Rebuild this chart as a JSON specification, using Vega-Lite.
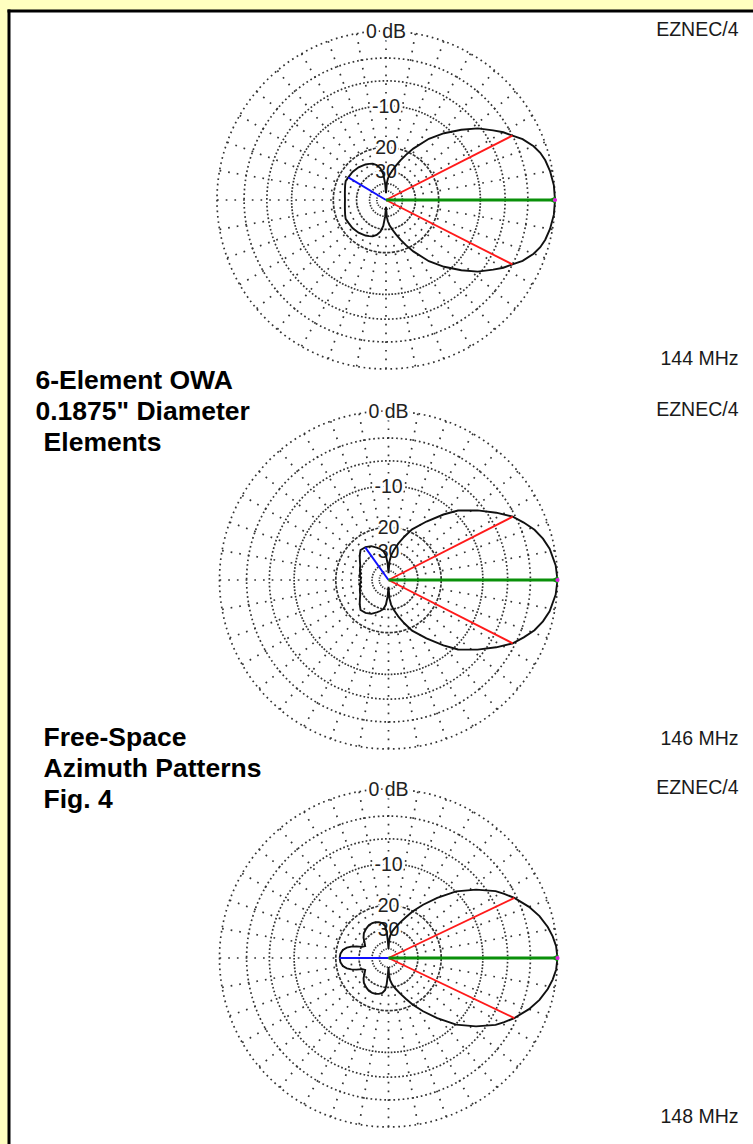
{
  "$schema": "https://vega.github.io/schema/vega-lite/v6.json",
  "width": 744.5,
  "height": 1133.5,
  "autosize": {"type": "none"},
  "padding": {"left": 8.5, "top": 10.5, "right": 0, "bottom": 0},
  "background": "#FFFFC0",
  "config": {"view": {"fill": "white", "stroke": null}},
  "datasets": {
    "rings": [
      {"freq": "144 MHz", "db": [0, -3, -6, -10, -20, -30, -40, -50]},
      {"freq": "146 MHz", "db": [0, -3, -6, -10, -20, -30, -40, -50]},
      {"freq": "148 MHz", "db": [0, -3, -6, -10, -20, -30, -40, -50]}
    ],
    "spokes": [
      {"freq": "144 MHz", "az": [0,10,20,30,40,50,60,70,80,90,100,110,120,130,140,150,160,170,180,190,200,210,220,230,240,250,260,270,280,290,300,310,320,330,340,350]},
      {"freq": "146 MHz", "az": [0,10,20,30,40,50,60,70,80,90,100,110,120,130,140,150,160,170,180,190,200,210,220,230,240,250,260,270,280,290,300,310,320,330,340,350]},
      {"freq": "148 MHz", "az": [0,10,20,30,40,50,60,70,80,90,100,110,120,130,140,150,160,170,180,190,200,210,220,230,240,250,260,270,280,290,300,310,320,330,340,350]}
    ],
    "ringLabels": [
      {"freq": "144 MHz", "db": [0, -10, -20, -30], "label": ["0 dB", "-10", "20", "30"]},
      {"freq": "146 MHz", "db": [0, -10, -20, -30], "label": ["0 dB", "-10", "20", "30"]},
      {"freq": "148 MHz", "db": [0, -10, -20, -30], "label": ["0 dB", "-10", "20", "30"]}
    ],
    "panels": [{"freq": "144 MHz"}, {"freq": "146 MHz"}, {"freq": "148 MHz"}],
    "rays": [
      {"freq": "144 MHz", "ray": "max", "az": 0, "db": 0},
      {"freq": "144 MHz", "ray": "half-power", "az": 27, "db": -3},
      {"freq": "144 MHz", "ray": "half-power", "az": -27, "db": -3},
      {"freq": "144 MHz", "ray": "back", "az": 149, "db": -23.1},
      {"freq": "146 MHz", "ray": "max", "az": 0, "db": 0},
      {"freq": "146 MHz", "ray": "half-power", "az": 27, "db": -3.3},
      {"freq": "146 MHz", "ray": "half-power", "az": -27, "db": -3.3},
      {"freq": "146 MHz", "ray": "back", "az": 125.5, "db": -24.7},
      {"freq": "148 MHz", "ray": "max", "az": 0, "db": 0},
      {"freq": "148 MHz", "ray": "half-power", "az": 25.5, "db": -3.3},
      {"freq": "148 MHz", "ray": "half-power", "az": -25.5, "db": -3.3},
      {"freq": "148 MHz", "ray": "back", "az": 180, "db": -21.3}
    ],
    "titles": [
      {"block": 0, "line": 0, "text": "6-Element OWA"},
      {"block": 0, "line": 1, "text": "0.1875\" Diameter"},
      {"block": 0, "line": 2, "text": "Elements"},
      {"block": 1, "line": 0, "text": "Free-Space"},
      {"block": 1, "line": 1, "text": "Azimuth Patterns"},
      {"block": 1, "line": 2, "text": "Fig. 4"}
    ],
    "pattern": [
      {"freq": "144 MHz", "az": 0, "db": 0},
      {"freq": "144 MHz", "az": 5, "db": -0.05},
      {"freq": "144 MHz", "az": 10, "db": -0.25},
      {"freq": "144 MHz", "az": 14, "db": -0.5},
      {"freq": "144 MHz", "az": 17, "db": -0.8},
      {"freq": "144 MHz", "az": 20, "db": -1.25},
      {"freq": "144 MHz", "az": 24, "db": -2.1},
      {"freq": "144 MHz", "az": 27, "db": -3},
      {"freq": "144 MHz", "az": 30, "db": -3.8},
      {"freq": "144 MHz", "az": 33, "db": -4.8},
      {"freq": "144 MHz", "az": 38, "db": -6.4},
      {"freq": "144 MHz", "az": 43, "db": -8.5},
      {"freq": "144 MHz", "az": 49, "db": -11.1},
      {"freq": "144 MHz", "az": 55, "db": -14},
      {"freq": "144 MHz", "az": 62, "db": -18.3},
      {"freq": "144 MHz", "az": 66, "db": -21},
      {"freq": "144 MHz", "az": 70, "db": -23.8},
      {"freq": "144 MHz", "az": 74, "db": -26.8},
      {"freq": "144 MHz", "az": 78, "db": -29.6},
      {"freq": "144 MHz", "az": 82, "db": -32.5},
      {"freq": "144 MHz", "az": 85, "db": -35.5},
      {"freq": "144 MHz", "az": 87, "db": -39},
      {"freq": "144 MHz", "az": 90, "db": -55},
      {"freq": "144 MHz", "az": 93, "db": -40},
      {"freq": "144 MHz", "az": 96, "db": -32},
      {"freq": "144 MHz", "az": 100, "db": -28.5},
      {"freq": "144 MHz", "az": 105, "db": -26.5},
      {"freq": "144 MHz", "az": 110, "db": -25.3},
      {"freq": "144 MHz", "az": 115, "db": -24.8},
      {"freq": "144 MHz", "az": 120, "db": -24.3},
      {"freq": "144 MHz", "az": 130, "db": -23.6},
      {"freq": "144 MHz", "az": 140, "db": -23.2},
      {"freq": "144 MHz", "az": 149, "db": -23.1},
      {"freq": "144 MHz", "az": 155, "db": -22.9},
      {"freq": "144 MHz", "az": 160, "db": -23.3},
      {"freq": "144 MHz", "az": 165, "db": -23.7},
      {"freq": "144 MHz", "az": 170, "db": -24},
      {"freq": "144 MHz", "az": 175, "db": -24.2},
      {"freq": "144 MHz", "az": 180, "db": -24.3},
      {"freq": "144 MHz", "az": -5, "db": -0.05},
      {"freq": "144 MHz", "az": -10, "db": -0.25},
      {"freq": "144 MHz", "az": -14, "db": -0.5},
      {"freq": "144 MHz", "az": -17, "db": -0.8},
      {"freq": "144 MHz", "az": -20, "db": -1.25},
      {"freq": "144 MHz", "az": -24, "db": -2.1},
      {"freq": "144 MHz", "az": -27, "db": -3},
      {"freq": "144 MHz", "az": -30, "db": -3.8},
      {"freq": "144 MHz", "az": -33, "db": -4.8},
      {"freq": "144 MHz", "az": -38, "db": -6.4},
      {"freq": "144 MHz", "az": -43, "db": -8.5},
      {"freq": "144 MHz", "az": -49, "db": -11.1},
      {"freq": "144 MHz", "az": -55, "db": -14},
      {"freq": "144 MHz", "az": -62, "db": -18.3},
      {"freq": "144 MHz", "az": -66, "db": -21},
      {"freq": "144 MHz", "az": -70, "db": -23.8},
      {"freq": "144 MHz", "az": -74, "db": -26.8},
      {"freq": "144 MHz", "az": -78, "db": -29.6},
      {"freq": "144 MHz", "az": -82, "db": -32.5},
      {"freq": "144 MHz", "az": -85, "db": -35.5},
      {"freq": "144 MHz", "az": -87, "db": -39},
      {"freq": "144 MHz", "az": -90, "db": -55},
      {"freq": "144 MHz", "az": -93, "db": -40},
      {"freq": "144 MHz", "az": -96, "db": -32},
      {"freq": "144 MHz", "az": -100, "db": -28.5},
      {"freq": "144 MHz", "az": -105, "db": -26.5},
      {"freq": "144 MHz", "az": -110, "db": -25.3},
      {"freq": "144 MHz", "az": -115, "db": -24.8},
      {"freq": "144 MHz", "az": -120, "db": -24.3},
      {"freq": "144 MHz", "az": -130, "db": -23.6},
      {"freq": "144 MHz", "az": -140, "db": -23.2},
      {"freq": "144 MHz", "az": -149, "db": -23.1},
      {"freq": "144 MHz", "az": -155, "db": -22.9},
      {"freq": "144 MHz", "az": -160, "db": -23.3},
      {"freq": "144 MHz", "az": -165, "db": -23.7},
      {"freq": "144 MHz", "az": -170, "db": -24},
      {"freq": "144 MHz", "az": -175, "db": -24.2},
      {"freq": "144 MHz", "az": -180, "db": -24.3},
      {"freq": "146 MHz", "az": 0, "db": 0},
      {"freq": "146 MHz", "az": 5, "db": -0.12},
      {"freq": "146 MHz", "az": 11, "db": -0.5},
      {"freq": "146 MHz", "az": 15, "db": -0.95},
      {"freq": "146 MHz", "az": 19, "db": -1.55},
      {"freq": "146 MHz", "az": 23, "db": -2.4},
      {"freq": "146 MHz", "az": 27, "db": -3.3},
      {"freq": "146 MHz", "az": 32, "db": -4.9},
      {"freq": "146 MHz", "az": 38, "db": -6.9},
      {"freq": "146 MHz", "az": 45, "db": -9.3},
      {"freq": "146 MHz", "az": 50, "db": -11.7},
      {"freq": "146 MHz", "az": 57, "db": -15.2},
      {"freq": "146 MHz", "az": 65, "db": -19},
      {"freq": "146 MHz", "az": 70, "db": -22.3},
      {"freq": "146 MHz", "az": 75, "db": -25.8},
      {"freq": "146 MHz", "az": 80, "db": -29.5},
      {"freq": "146 MHz", "az": 84, "db": -33},
      {"freq": "146 MHz", "az": 87, "db": -38},
      {"freq": "146 MHz", "az": 90, "db": -55},
      {"freq": "146 MHz", "az": 93, "db": -40},
      {"freq": "146 MHz", "az": 96, "db": -33},
      {"freq": "146 MHz", "az": 100, "db": -30},
      {"freq": "146 MHz", "az": 105, "db": -28.5},
      {"freq": "146 MHz", "az": 110, "db": -27.3},
      {"freq": "146 MHz", "az": 117, "db": -25.6},
      {"freq": "146 MHz", "az": 125, "db": -24.7},
      {"freq": "146 MHz", "az": 133, "db": -24.3},
      {"freq": "146 MHz", "az": 140, "db": -25.8},
      {"freq": "146 MHz", "az": 147, "db": -27.5},
      {"freq": "146 MHz", "az": 153, "db": -28.7},
      {"freq": "146 MHz", "az": 158, "db": -29.2},
      {"freq": "146 MHz", "az": 163, "db": -29.7},
      {"freq": "146 MHz", "az": 167, "db": -30.8},
      {"freq": "146 MHz", "az": 171, "db": -30},
      {"freq": "146 MHz", "az": 175, "db": -31.2},
      {"freq": "146 MHz", "az": 180, "db": -30.8},
      {"freq": "146 MHz", "az": -5, "db": -0.12},
      {"freq": "146 MHz", "az": -11, "db": -0.5},
      {"freq": "146 MHz", "az": -15, "db": -0.95},
      {"freq": "146 MHz", "az": -19, "db": -1.55},
      {"freq": "146 MHz", "az": -23, "db": -2.4},
      {"freq": "146 MHz", "az": -27, "db": -3.3},
      {"freq": "146 MHz", "az": -32, "db": -4.9},
      {"freq": "146 MHz", "az": -38, "db": -6.9},
      {"freq": "146 MHz", "az": -45, "db": -9.3},
      {"freq": "146 MHz", "az": -50, "db": -11.7},
      {"freq": "146 MHz", "az": -57, "db": -15.2},
      {"freq": "146 MHz", "az": -65, "db": -19},
      {"freq": "146 MHz", "az": -70, "db": -22.3},
      {"freq": "146 MHz", "az": -75, "db": -25.8},
      {"freq": "146 MHz", "az": -80, "db": -29.5},
      {"freq": "146 MHz", "az": -84, "db": -33},
      {"freq": "146 MHz", "az": -87, "db": -38},
      {"freq": "146 MHz", "az": -90, "db": -55},
      {"freq": "146 MHz", "az": -93, "db": -40},
      {"freq": "146 MHz", "az": -96, "db": -33},
      {"freq": "146 MHz", "az": -100, "db": -30},
      {"freq": "146 MHz", "az": -105, "db": -28.5},
      {"freq": "146 MHz", "az": -110, "db": -27.3},
      {"freq": "146 MHz", "az": -117, "db": -25.6},
      {"freq": "146 MHz", "az": -125, "db": -24.7},
      {"freq": "146 MHz", "az": -133, "db": -24.3},
      {"freq": "146 MHz", "az": -140, "db": -25.8},
      {"freq": "146 MHz", "az": -147, "db": -27.5},
      {"freq": "146 MHz", "az": -153, "db": -28.7},
      {"freq": "146 MHz", "az": -158, "db": -29.2},
      {"freq": "146 MHz", "az": -163, "db": -29.7},
      {"freq": "146 MHz", "az": -167, "db": -30.8},
      {"freq": "146 MHz", "az": -171, "db": -30},
      {"freq": "146 MHz", "az": -175, "db": -31.2},
      {"freq": "146 MHz", "az": -180, "db": -30.8},
      {"freq": "148 MHz", "az": 0, "db": 0},
      {"freq": "148 MHz", "az": 4, "db": -0.1},
      {"freq": "148 MHz", "az": 7.5, "db": -0.35},
      {"freq": "148 MHz", "az": 11, "db": -0.7},
      {"freq": "148 MHz", "az": 15.5, "db": -1.3},
      {"freq": "148 MHz", "az": 20, "db": -2.1},
      {"freq": "148 MHz", "az": 25.5, "db": -3.3},
      {"freq": "148 MHz", "az": 29, "db": -4.2},
      {"freq": "148 MHz", "az": 32, "db": -5},
      {"freq": "148 MHz", "az": 38, "db": -7.2},
      {"freq": "148 MHz", "az": 44.6, "db": -9.9},
      {"freq": "148 MHz", "az": 51, "db": -13.4},
      {"freq": "148 MHz", "az": 57, "db": -16.8},
      {"freq": "148 MHz", "az": 62.5, "db": -20},
      {"freq": "148 MHz", "az": 67, "db": -23},
      {"freq": "148 MHz", "az": 72, "db": -26},
      {"freq": "148 MHz", "az": 77, "db": -28.8},
      {"freq": "148 MHz", "az": 82, "db": -31.5},
      {"freq": "148 MHz", "az": 86, "db": -35},
      {"freq": "148 MHz", "az": 88, "db": -39},
      {"freq": "148 MHz", "az": 90, "db": -50},
      {"freq": "148 MHz", "az": 92, "db": -40},
      {"freq": "148 MHz", "az": 94, "db": -32},
      {"freq": "148 MHz", "az": 96, "db": -28.5},
      {"freq": "148 MHz", "az": 100, "db": -26.8},
      {"freq": "148 MHz", "az": 105, "db": -26},
      {"freq": "148 MHz", "az": 110, "db": -25.6},
      {"freq": "148 MHz", "az": 115, "db": -25.4},
      {"freq": "148 MHz", "az": 121, "db": -25.5},
      {"freq": "148 MHz", "az": 128, "db": -26.2},
      {"freq": "148 MHz", "az": 135, "db": -27.1},
      {"freq": "148 MHz", "az": 141, "db": -28.5},
      {"freq": "148 MHz", "az": 147, "db": -30.5},
      {"freq": "148 MHz", "az": 153, "db": -32},
      {"freq": "148 MHz", "az": 157, "db": -30.5},
      {"freq": "148 MHz", "az": 160, "db": -27.5},
      {"freq": "148 MHz", "az": 163, "db": -25.2},
      {"freq": "148 MHz", "az": 166, "db": -23.5},
      {"freq": "148 MHz", "az": 170, "db": -22.2},
      {"freq": "148 MHz", "az": 175, "db": -21.5},
      {"freq": "148 MHz", "az": 180, "db": -21.3},
      {"freq": "148 MHz", "az": -4, "db": -0.1},
      {"freq": "148 MHz", "az": -7.5, "db": -0.35},
      {"freq": "148 MHz", "az": -11, "db": -0.7},
      {"freq": "148 MHz", "az": -15.5, "db": -1.3},
      {"freq": "148 MHz", "az": -20, "db": -2.1},
      {"freq": "148 MHz", "az": -25.5, "db": -3.3},
      {"freq": "148 MHz", "az": -29, "db": -4.2},
      {"freq": "148 MHz", "az": -32, "db": -5},
      {"freq": "148 MHz", "az": -38, "db": -7.2},
      {"freq": "148 MHz", "az": -44.6, "db": -9.9},
      {"freq": "148 MHz", "az": -51, "db": -13.4},
      {"freq": "148 MHz", "az": -57, "db": -16.8},
      {"freq": "148 MHz", "az": -62.5, "db": -20},
      {"freq": "148 MHz", "az": -67, "db": -23},
      {"freq": "148 MHz", "az": -72, "db": -26},
      {"freq": "148 MHz", "az": -77, "db": -28.8},
      {"freq": "148 MHz", "az": -82, "db": -31.5},
      {"freq": "148 MHz", "az": -86, "db": -35},
      {"freq": "148 MHz", "az": -88, "db": -39},
      {"freq": "148 MHz", "az": -90, "db": -50},
      {"freq": "148 MHz", "az": -92, "db": -40},
      {"freq": "148 MHz", "az": -94, "db": -32},
      {"freq": "148 MHz", "az": -96, "db": -28.5},
      {"freq": "148 MHz", "az": -100, "db": -26.8},
      {"freq": "148 MHz", "az": -105, "db": -26},
      {"freq": "148 MHz", "az": -110, "db": -25.6},
      {"freq": "148 MHz", "az": -115, "db": -25.4},
      {"freq": "148 MHz", "az": -121, "db": -25.5},
      {"freq": "148 MHz", "az": -128, "db": -26.2},
      {"freq": "148 MHz", "az": -135, "db": -27.1},
      {"freq": "148 MHz", "az": -141, "db": -28.5},
      {"freq": "148 MHz", "az": -147, "db": -30.5},
      {"freq": "148 MHz", "az": -153, "db": -32},
      {"freq": "148 MHz", "az": -157, "db": -30.5},
      {"freq": "148 MHz", "az": -160, "db": -27.5},
      {"freq": "148 MHz", "az": -163, "db": -25.2},
      {"freq": "148 MHz", "az": -166, "db": -23.5},
      {"freq": "148 MHz", "az": -170, "db": -22.2},
      {"freq": "148 MHz", "az": -175, "db": -21.5},
      {"freq": "148 MHz", "az": -180, "db": -21.3}
    ]
  },
  "encoding": {
    "x": {
      "field": "x", "type": "quantitative",
      "scale": {"domain": [-2.2337, 2.1716], "nice": false, "zero": false},
      "axis": {"orient": "top", "title": null, "labels": false, "ticks": false, "grid": false, "domain": true, "domainColor": "#000000", "domainWidth": 3, "domainCap": "square"}
    },
    "y": {
      "field": "y", "type": "quantitative",
      "scale": {"domain": [-5.5858, 1.1213], "nice": false, "zero": false},
      "axis": {"orient": "left", "title": null, "labels": false, "ticks": false, "grid": false, "domain": true, "domainColor": "#000000", "domainWidth": 3, "domainCap": "square"}
    }
  },
  "layer": [
    {
      "data": {"name": "rings"},
      "transform": [
        {"flatten": ["db"]},
        {"calculate": "indexof(['144 MHz','146 MHz','148 MHz'], datum.freq)", "as": "p"},
        {"calculate": "datum.p == 0 ? 0 : 0.0148", "as": "x"},
        {"calculate": "datum.p == 0 ? 0 : (datum.p == 1 ? -2.2485 : -4.4852)", "as": "y"},
        {"calculate": "pow(0.89, -datum.db / 2)", "as": "r"}
      ],
      "mark": {"type": "point", "shape": "circle", "filled": false, "stroke": "#333333", "strokeWidth": 1.7, "opacity": 1},
      "encoding": {
        "size": {"field": "r", "type": "quantitative", "scale": {"type": "pow", "exponent": 2, "domain": [0, 1], "range": [0, 114244]}, "legend": null},
        "strokeDash": {"field": "db", "type": "ordinal", "scale": {"domain": [0, -3, -6, -10, -20, -30, -40, -50], "range": [[1.7, 3.7], [1.7, 2.9], [1.7, 2.2], [1.7, 1.5], [3.2, 1.4], [2.2, 1.3], [1.5, 1.3], [1.2, 1.3]]}, "legend": null}
      }
    },
    {
      "data": {"name": "spokes"},
      "transform": [
        {"flatten": ["az"]},
        {"calculate": "indexof(['144 MHz','146 MHz','148 MHz'], datum.freq)", "as": "p"},
        {"calculate": "datum.p == 0 ? 0 : 0.0148", "as": "cx"},
        {"calculate": "datum.p == 0 ? 0 : (datum.p == 1 ? -2.2485 : -4.4852)", "as": "cy"},
        {"calculate": "datum.cx + cos(datum.az * PI / 180)", "as": "x"},
        {"calculate": "datum.cy + sin(datum.az * PI / 180)", "as": "y"},
        {"calculate": "datum.cx + 0.174 * cos(datum.az * PI / 180)", "as": "x2"},
        {"calculate": "datum.cy + 0.174 * sin(datum.az * PI / 180)", "as": "y2"}
      ],
      "mark": {"type": "rule", "stroke": "#333333", "strokeWidth": 1.7, "strokeDash": [1.7, 7]},
      "encoding": {"x2": {"field": "x2"}, "y2": {"field": "y2"}}
    },
    {
      "data": {"name": "ringLabels"},
      "transform": [
        {"flatten": ["db", "label"]},
        {"calculate": "indexof(['144 MHz','146 MHz','148 MHz'], datum.freq)", "as": "p"},
        {"calculate": "datum.p == 0 ? 0 : 0.0148", "as": "x"},
        {"calculate": "(datum.p == 0 ? 0 : (datum.p == 1 ? -2.2485 : -4.4852)) + pow(0.89, -datum.db / 2)", "as": "y"}
      ],
      "mark": {"type": "text", "font": "Liberation Sans", "fontSize": 19.5, "align": "center", "baseline": "middle", "dy": 1, "color": "white", "stroke": "white", "strokeWidth": 5},
      "encoding": {"text": {"field": "label"}}
    },
    {
      "data": {"name": "ringLabels"},
      "transform": [
        {"flatten": ["db", "label"]},
        {"calculate": "indexof(['144 MHz','146 MHz','148 MHz'], datum.freq)", "as": "p"},
        {"calculate": "datum.p == 0 ? 0 : 0.0148", "as": "x"},
        {"calculate": "(datum.p == 0 ? 0 : (datum.p == 1 ? -2.2485 : -4.4852)) + pow(0.89, -datum.db / 2)", "as": "y"}
      ],
      "mark": {"type": "text", "font": "Liberation Sans", "fontSize": 19.5, "align": "center", "baseline": "middle", "dy": 1, "color": "#222222"},
      "encoding": {"text": {"field": "label"}}
    },
    {
      "data": {"name": "pattern"},
      "transform": [
        {"calculate": "indexof(['144 MHz','146 MHz','148 MHz'], datum.freq)", "as": "p"},
        {"calculate": "pow(0.89, -datum.db / 2)", "as": "r"},
        {"calculate": "(datum.p == 0 ? 0 : 0.0148) + datum.r * cos(datum.az * PI / 180)", "as": "x"},
        {"calculate": "(datum.p == 0 ? 0 : (datum.p == 1 ? -2.2485 : -4.4852)) + datum.r * sin(datum.az * PI / 180)", "as": "y"}
      ],
      "mark": {"type": "line", "stroke": "#111111", "strokeWidth": 1.9, "interpolate": "linear"},
      "encoding": {
        "detail": {"field": "freq", "type": "nominal"},
        "order": {"field": "az", "type": "quantitative"}
      }
    },
    {
      "data": {"name": "rays"},
      "transform": [
        {"filter": "datum.ray != 'max'"},
        {"calculate": "indexof(['144 MHz','146 MHz','148 MHz'], datum.freq)", "as": "p"},
        {"calculate": "pow(0.89, -datum.db / 2)", "as": "r"},
        {"calculate": "datum.p == 0 ? 0 : 0.0148", "as": "x2"},
        {"calculate": "datum.p == 0 ? 0 : (datum.p == 1 ? -2.2485 : -4.4852)", "as": "y2"},
        {"calculate": "datum.x2 + datum.r * cos(datum.az * PI / 180)", "as": "x"},
        {"calculate": "datum.y2 + datum.r * sin(datum.az * PI / 180)", "as": "y"}
      ],
      "mark": {"type": "rule", "strokeWidth": 1.9},
      "encoding": {
        "x2": {"field": "x2"},
        "y2": {"field": "y2"},
        "color": {"field": "ray", "type": "nominal", "scale": {"domain": ["half-power", "back"], "range": ["#ff1a1a", "#1010ff"]}, "legend": null}
      }
    },
    {
      "data": {"name": "rays"},
      "transform": [
        {"filter": "datum.ray == 'max'"},
        {"calculate": "indexof(['144 MHz','146 MHz','148 MHz'], datum.freq)", "as": "p"},
        {"calculate": "pow(0.89, -datum.db / 2)", "as": "r"},
        {"calculate": "datum.p == 0 ? 0 : 0.0148", "as": "x2"},
        {"calculate": "datum.p == 0 ? 0 : (datum.p == 1 ? -2.2485 : -4.4852)", "as": "y2"},
        {"calculate": "datum.x2 + datum.r * cos(datum.az * PI / 180)", "as": "x"},
        {"calculate": "datum.y2 + datum.r * sin(datum.az * PI / 180)", "as": "y"}
      ],
      "mark": {"type": "rule", "strokeWidth": 2.8, "color": "#0a900a"},
      "encoding": {
        "x2": {"field": "x2"},
        "y2": {"field": "y2"}
      }
    },
    {
      "data": {"name": "rays"},
      "transform": [
        {"filter": "datum.ray == 'max'"},
        {"calculate": "indexof(['144 MHz','146 MHz','148 MHz'], datum.freq)", "as": "p"},
        {"calculate": "(datum.p == 0 ? 0 : 0.0148) + 0.983 * pow(0.89, -datum.db / 2)", "as": "x"},
        {"calculate": "datum.p == 0 ? 0 : (datum.p == 1 ? -2.2485 : -4.4852)", "as": "y"}
      ],
      "mark": {"type": "point", "shape": "triangle-left", "filled": true, "color": "#0a900a", "size": 60, "opacity": 1}
    },
    {
      "data": {"name": "rays"},
      "transform": [
        {"filter": "datum.ray == 'max'"},
        {"calculate": "indexof(['144 MHz','146 MHz','148 MHz'], datum.freq)", "as": "p"},
        {"calculate": "(datum.p == 0 ? 0 : 0.0148) + pow(0.89, -datum.db / 2)", "as": "x"},
        {"calculate": "datum.p == 0 ? 0 : (datum.p == 1 ? -2.2485 : -4.4852)", "as": "y"}
      ],
      "mark": {"type": "point", "shape": "circle", "filled": true, "color": "#e020e0", "size": 18, "opacity": 1}
    },
    {
      "data": {"name": "panels"},
      "transform": [
        {"calculate": "indexof(['144 MHz','146 MHz','148 MHz'], datum.freq)", "as": "p"},
        {"calculate": "2.0858", "as": "x"},
        {"calculate": "(datum.p == 0 ? 0 : (datum.p == 1 ? -2.2485 : -4.4852)) + 0.972", "as": "y"}
      ],
      "mark": {"type": "text", "font": "Liberation Sans", "fontSize": 19.5, "align": "right", "baseline": "alphabetic", "color": "#1a1a1a", "text": "EZNEC/4"}
    },
    {
      "data": {"name": "panels"},
      "transform": [
        {"calculate": "indexof(['144 MHz','146 MHz','148 MHz'], datum.freq)", "as": "p"},
        {"calculate": "2.0858", "as": "x"},
        {"calculate": "(datum.p == 0 ? 0 : (datum.p == 1 ? -2.2485 : -4.4852)) - 0.975", "as": "y"}
      ],
      "mark": {"type": "text", "font": "Liberation Sans", "fontSize": 19.5, "align": "right", "baseline": "alphabetic", "color": "#1a1a1a"},
      "encoding": {"text": {"field": "freq"}}
    },
    {
      "data": {"name": "titles"},
      "transform": [
        {"calculate": "datum.block == 0 ? (datum.line == 2 ? -2.026 : -2.074) : -2.0266", "as": "x"},
        {"calculate": "(datum.block == 0 ? -1.1183 : -3.229) - datum.line * 0.1834", "as": "y"}
      ],
      "mark": {"type": "text", "font": "Liberation Sans", "fontSize": 26.5, "fontWeight": "bold", "align": "left", "baseline": "alphabetic", "color": "#000000"},
      "encoding": {"text": {"field": "text"}}
    }
  ]
}
